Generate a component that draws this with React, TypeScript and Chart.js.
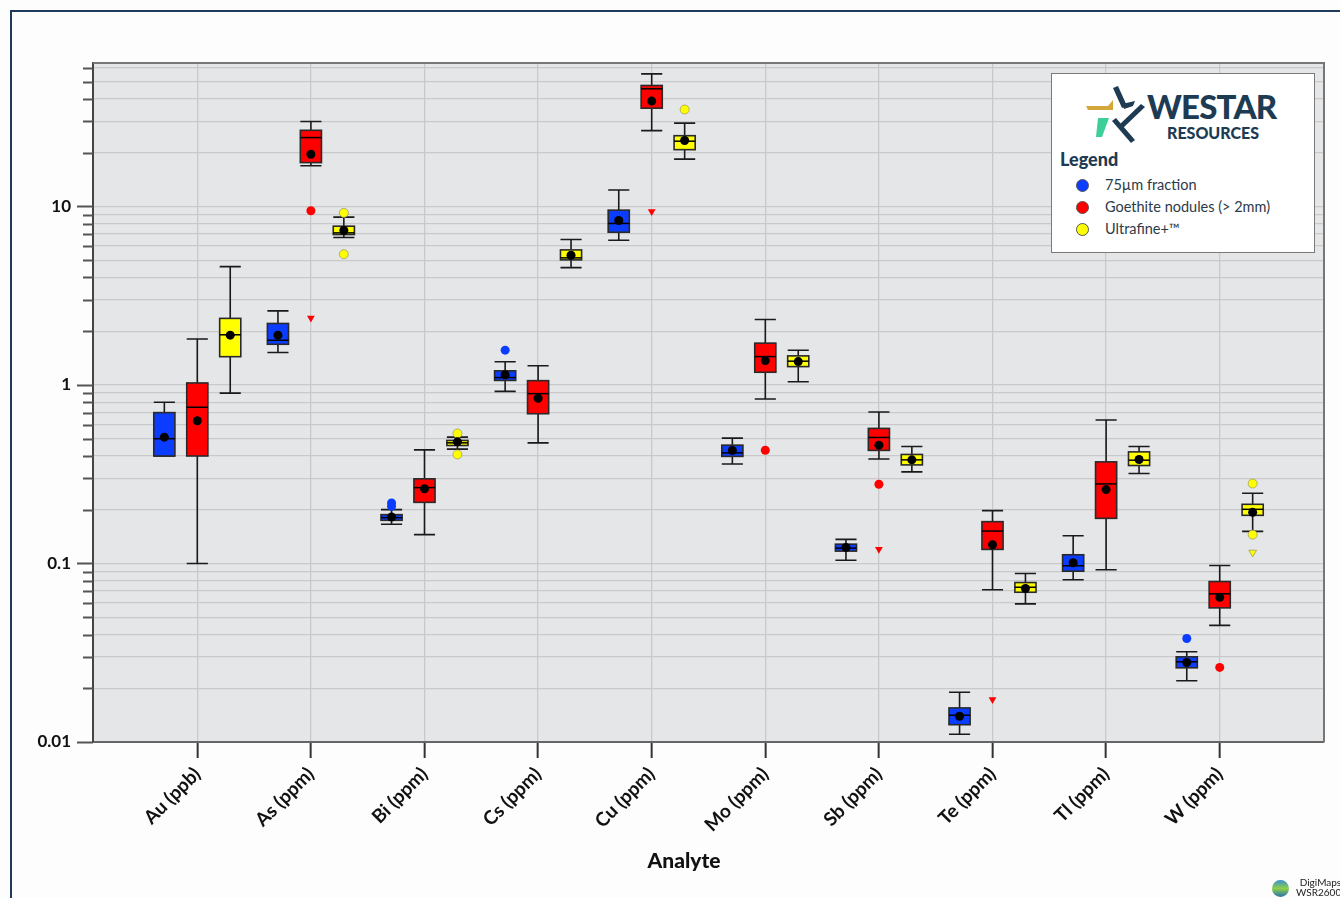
import React, { useEffect, useRef } from "react";
import { Chart, registerables } from "chart.js";

Chart.register(...registerables);

const categories = ["Au (ppb)", "As (ppm)", "Bi (ppm)", "Cs (ppm)", "Cu (ppm)", "Mo (ppm)", "Sb (ppm)", "Te (ppm)", "Tl (ppm)", "W (ppm)"];
const seriesNames = ["75µm fraction", "Goethite nodules (> 2mm)", "Ultrafine+™"];
const seriesColors = ["#0a3dff", "#ff0000", "#ffff00"];
const xAxisTitle = "Analyte";

const yLabelValues = [0.01, 0.1, 1, 10];
const yTickLabels = ["0.01", "0.1", "1", "10"];
const yAxisMin = 0.01;
const yAxisMax = 63.6;

// each box: [whisker low, Q1, median, Q3, whisker high]
const fraction75Boxes = [
  [0.40, 0.40, 0.50, 0.70, 0.80],
  [1.52, 1.69, 1.78, 2.21, 2.60],
  [0.166, 0.1745, 0.1806, 0.1877, 0.2003],
  [0.92, 1.06, 1.10, 1.20, 1.35],
  [6.47, 7.17, 8.03, 9.53, 12.35],
  [0.361, 0.398, 0.4165, 0.460, 0.504],
  [0.1043, 0.1173, 0.1219, 0.1283, 0.1364],
  [0.01105, 0.0125, 0.01413, 0.01552, 0.0190],
  [0.081, 0.0905, 0.0971, 0.1119, 0.1431],
  [0.02202, 0.02604, 0.02814, 0.0300, 0.0320],
];
const fraction75Means = [0.51, 1.90, 0.182, 1.14, 8.34, 0.430, 0.1230, 0.01394, 0.1009, 0.0279];
const fraction75Outliers = [[2, 0.218], [2, 0.209], [3, 1.567], [9, 0.0380]];
const fraction75Extremes: number[][] = [];

const goethiteBoxes = [
  [0.10, 0.40, 0.75, 1.026, 1.81],
  [16.9, 17.6, 24.3, 26.7, 29.9],
  [0.145, 0.220, 0.266, 0.298, 0.433],
  [0.474, 0.69, 0.894, 1.057, 1.28],
  [26.6, 35.5, 45.6, 47.6, 55.3],
  [0.834, 1.178, 1.442, 1.715, 2.327],
  [0.385, 0.430, 0.508, 0.571, 0.705],
  [0.0712, 0.1199, 0.1519, 0.1715, 0.1978],
  [0.0922, 0.179, 0.279, 0.3708, 0.636],
  [0.045, 0.0564, 0.0676, 0.0792, 0.0974],
];
const goethiteMeans = [0.63, 19.6, 0.262, 0.842, 38.9, 1.369, 0.460, 0.1274, 0.2594, 0.0647];
const goethiteOutliers = [[1, 9.46], [5, 0.431], [6, 0.278], [9, 0.02616]];
const goethiteExtremes = [[1, 2.37], [4, 9.37], [6, 0.120], [7, 0.01729]];

const ultrafineBoxes = [
  [0.90, 1.44, 1.91, 2.36, 4.60],
  [6.70, 6.96, 7.11, 7.75, 8.71],
  [0.437, 0.458, 0.474, 0.489, 0.51],
  [4.54, 5.02, 5.15, 5.71, 6.53],
  [18.4, 20.8, 23.2, 24.9, 29.3],
  [1.043, 1.267, 1.359, 1.455, 1.566],
  [0.326, 0.3566, 0.3805, 0.408, 0.4524],
  [0.0594, 0.0690, 0.0736, 0.0782, 0.0879],
  [0.319, 0.3538, 0.379, 0.4219, 0.4524],
  [0.1513, 0.1861, 0.2011, 0.2145, 0.2473],
];
const ultrafineMeans = [1.90, 7.33, 0.48, 5.33, 23.4, 1.352, 0.3805, 0.0724, 0.3825, 0.1934];
const ultrafineOutliers = [[1, 9.2], [1, 5.40], [2, 0.535], [2, 0.408], [4, 34.9], [9, 0.2804], [9, 0.145]];
const ultrafineExtremes = [[9, 0.1153]];

const allBoxes = [fraction75Boxes, goethiteBoxes, ultrafineBoxes];
const allMeans = [fraction75Means, goethiteMeans, ultrafineMeans];
const allOutliers = [fraction75Outliers, goethiteOutliers, ultrafineOutliers];
const allExtremes = [fraction75Extremes, goethiteExtremes, ultrafineExtremes];

// layout constants (category units)
const seriesOffset = [-0.29, 0, 0.29];
const boxHalf = 0.093;
const xMin = -0.918;
const xMax = 9.918;

const FONT = "Lato, 'DejaVu Sans', sans-serif";

function minorGridValues(): number[] {
  const out: number[] = [];
  for (let e = -2; e <= 1; e++) {
    for (let m = 1; m <= 9; m++) {
      const v = m * Math.pow(10, e);
      if (v <= yAxisMax) out.push(parseFloat(v.toPrecision(3)));
    }
  }
  return out;
}

const plotBackground = {
  id: "plotBackground",
  beforeDraw(chart: any) {
    const { ctx, chartArea } = chart;
    ctx.save();
    ctx.fillStyle = "#e5e6e8";
    ctx.fillRect(chartArea.left, chartArea.top, chartArea.right - chartArea.left, chartArea.bottom - chartArea.top);
    ctx.restore();
  },
};

const boxPlot = {
  id: "boxPlot",
  beforeDatasetsDraw(chart: any) {
    const { ctx } = chart;
    const xs = chart.scales.x;
    const ys = chart.scales.y;
    ctx.save();
    allBoxes.forEach((boxes, s) => {
      boxes.forEach((b, i) => {
        const xv = i + seriesOffset[s];
        const xc = xs.getPixelForValue(xv);
        const xl = xs.getPixelForValue(xv - boxHalf);
        const xr = xs.getPixelForValue(xv + boxHalf);
        const [lo, q1, med, q3, hi] = b.map((v: number) => ys.getPixelForValue(v));
        ctx.strokeStyle = "#1a1a1a";
        ctx.lineWidth = 1.6;
        ctx.beginPath();
        ctx.moveTo(xc, hi);
        ctx.lineTo(xc, lo);
        ctx.moveTo(xl, hi);
        ctx.lineTo(xr, hi);
        ctx.moveTo(xl, lo);
        ctx.lineTo(xr, lo);
        ctx.stroke();
        ctx.fillStyle = seriesColors[s];
        ctx.fillRect(xl, q3, xr - xl, q1 - q3);
        ctx.strokeStyle = "#2a2a2a";
        ctx.lineWidth = 1.6;
        ctx.strokeRect(xl, q3, xr - xl, q1 - q3);
        ctx.strokeStyle = "#000";
        ctx.lineWidth = 1.5;
        ctx.beginPath();
        ctx.moveTo(xl, med);
        ctx.lineTo(xr, med);
        ctx.stroke();
      });
    });
    ctx.restore();
  },
};

const frameAndTicks = {
  id: "frameAndTicks",
  afterDraw(chart: any) {
    const { ctx, chartArea } = chart;
    const ys = chart.scales.y;
    ctx.save();
    ctx.strokeStyle = "#777";
    ctx.lineWidth = 2;
    ctx.beginPath();
    ctx.moveTo(chartArea.left, chartArea.top);
    ctx.lineTo(chartArea.right, chartArea.top);
    ctx.lineTo(chartArea.right, chartArea.bottom);
    ctx.stroke();
    ctx.strokeStyle = "#555";
    ctx.lineWidth = 2;
    ctx.beginPath();
    minorGridValues().forEach((v) => {
      const y = Math.round(ys.getPixelForValue(v)) + 0.5;
      const major = yLabelValues.some((m) => Math.abs(m - v) < 1e-9);
      ctx.moveTo(chartArea.left - (major ? 16 : 10), y);
      ctx.lineTo(chartArea.left, y);
    });
    ctx.stroke();
    ctx.restore();
  },
};

function ChartCanvas() {
  const ref = useRef<HTMLCanvasElement | null>(null);
  useEffect(() => {
    if (!ref.current) return;
    const datasets: any[] = [];
    allMeans.forEach((means, s) => {
      datasets.push({
        label: seriesNames[s] + " mean",
        data: means.map((v, i) => ({ x: i + seriesOffset[s], y: v })),
        pointRadius: 4.5,
        pointBackgroundColor: "#000",
        pointBorderColor: "#000",
        pointBorderWidth: 0,
      });
    });
    allOutliers.forEach((outs, s) => {
      datasets.push({
        label: seriesNames[s] + " outliers",
        data: outs.map(([i, v]) => ({ x: i + seriesOffset[s], y: v })),
        pointRadius: 4.5,
        pointBackgroundColor: seriesColors[s],
        pointBorderColor: s === 2 ? "rgba(150,150,90,0.7)" : seriesColors[s],
        pointBorderWidth: s === 2 ? 1 : 0,
      });
    });
    allExtremes.forEach((outs, s) => {
      datasets.push({
        label: seriesNames[s] + " extremes",
        data: outs.map(([i, v]) => ({ x: i + seriesOffset[s], y: v })),
        pointStyle: "triangle",
        rotation: 180,
        pointRadius: 4.5,
        pointBackgroundColor: seriesColors[s],
        pointBorderColor: s === 2 ? "rgba(150,150,90,0.7)" : seriesColors[s],
        pointBorderWidth: s === 2 ? 1 : 0,
      });
    });

    const chart = new Chart(ref.current, {
      type: "scatter",
      data: { datasets },
      plugins: [plotBackground, boxPlot, frameAndTicks],
      options: {
        responsive: false,
        animation: false,
        events: [],
        layout: { padding: { left: 0, right: 16, top: 63, bottom: 0 } },
        plugins: { legend: { display: false }, tooltip: { enabled: false } },
        scales: {
          x: {
            type: "linear",
            min: xMin,
            max: xMax,
            afterBuildTicks: (s: any) => {
              s.ticks = categories.map((_, i) => ({ value: i }));
            },
            afterFit: (s: any) => {
              s.height = 156;
            },
            ticks: {
              autoSkip: false,
              minRotation: 45,
              maxRotation: 45,
              padding: 5,
              color: "#111",
              font: { family: FONT, weight: "bold", size: 19 },
              callback: (v: any) => categories[Math.round(Number(v))] ?? "",
            },
            grid: { color: "#c9c9c9", lineWidth: 1.3, tickColor: "#333", tickWidth: 2, tickLength: 16 },
            border: { display: true, color: "#666", width: 2 },
            title: { display: false },
          },
          y: {
            type: "logarithmic",
            min: yAxisMin,
            max: yAxisMax,
            afterBuildTicks: (s: any) => {
              s.ticks = minorGridValues().map((v) => ({ value: v }));
            },
            afterFit: (s: any) => {
              s.width = 93;
            },
            ticks: {
              autoSkip: false,
              padding: 22,
              color: "#111",
              font: { family: FONT, weight: "bold", size: 17 },
              callback: (v: any) => {
                const k = yLabelValues.findIndex((m) => Math.abs(m - Number(v)) < 1e-9);
                return k >= 0 ? yTickLabels[k] : "";
              },
            },
            grid: { color: "#c9c9c9", lineWidth: 1.3, drawTicks: false },
            border: { display: true, color: "#444", width: 2 },
          },
        },
      } as any,
    });
    return () => chart.destroy();
  }, []);
  return <canvas ref={ref} width={1340} height={898} style={{ position: "absolute", left: 0, top: 0, width: 1340, height: 898 }} />;
}

function StarLogo() {
  return (
    <svg width={70} height={66} viewBox="0 0 70 66" style={{ position: "absolute", left: 29, top: 7 }}>
      <polygon points="5,25 27,25 32,19 32,29 7,29" fill="#d4a73a" />
      <polygon points="17,37 28,37 21,56 15,56" fill="#3ccf9a" />
      <polygon points="32,7 37,5 46,25 41,27" fill="#1d3b53" />
      <polygon points="41,23 54,20 52,25 43,28" fill="#1d3b53" />
      <polygon points="60,23 64,26 42,47 38,44" fill="#1d3b53" />
      <polygon points="31,40 35,37 54,59 50,62" fill="#1d3b53" />
    </svg>
  );
}

function LegendBox() {
  const itemTop = [111, 133, 155];
  return (
    <div
      style={{
        position: "absolute",
        left: 1051,
        top: 73,
        width: 262,
        height: 178,
        background: "#fff",
        border: "1.5px solid #7a7a7a",
        fontFamily: FONT,
      }}
    >
      <StarLogo />
      <div style={{ position: "absolute", left: 95, top: 16, fontSize: 33, lineHeight: "33px", fontWeight: 900, color: "#1d3b53", letterSpacing: -0.8 }}>
        WESTAR
      </div>
      <div style={{ position: "absolute", left: 115, top: 51, fontSize: 16, lineHeight: "16px", fontWeight: 900, color: "#1d3b53" }}>
        RESOURCES
      </div>
      <div style={{ position: "absolute", left: 8, top: 76, fontSize: 18, lineHeight: "18px", fontWeight: 900, color: "#1d3b53" }}>
        Legend
      </div>
      {seriesNames.map((n, s) => (
        <React.Fragment key={n}>
          <div
            style={{
              position: "absolute",
              left: 24,
              top: itemTop[s] - 6,
              width: 11,
              height: 11,
              borderRadius: "50%",
              background: seriesColors[s],
              border: "0.8px solid #555",
            }}
          />
          <div style={{ position: "absolute", left: 53, top: itemTop[s] - 9, fontSize: 14.5, lineHeight: "18px", color: "#2d3a48" }}>{n}</div>
        </React.Fragment>
      ))}
    </div>
  );
}

export default function App() {
  return (
    <div style={{ position: "fixed", left: 0, top: 0, width: 1340, height: 898, background: "#fdfdfd", overflow: "hidden" }}>
      <div style={{ position: "absolute", left: 10, top: 10, width: 1400, height: 1000, borderLeft: "2px solid #1f3a5a", borderTop: "2px solid #1f3a5a" }} />
      <ChartCanvas />
      <LegendBox />
      <div
        style={{
          position: "absolute",
          left: 684,
          top: 848,
          transform: "translateX(-50%)",
          fontFamily: FONT,
          fontSize: 21,
          lineHeight: "24px",
          fontWeight: 900,
          color: "#111",
          whiteSpace: "nowrap",
        }}
      >
        {xAxisTitle}
      </div>
      <div
        style={{
          position: "absolute",
          left: 1272,
          top: 880,
          width: 17,
          height: 17,
          borderRadius: "50%",
          background: "linear-gradient(180deg, #3a8fd0 0%, #8ed04a 50%, #2a6fb0 100%)",
        }}
      />
      <div style={{ position: "absolute", left: 1296, top: 877, fontFamily: FONT, fontSize: 10, lineHeight: "10px", color: "#222", textAlign: "right" }}>
        DigiMaps
        <br />
        WSR2600
      </div>
    </div>
  );
}
